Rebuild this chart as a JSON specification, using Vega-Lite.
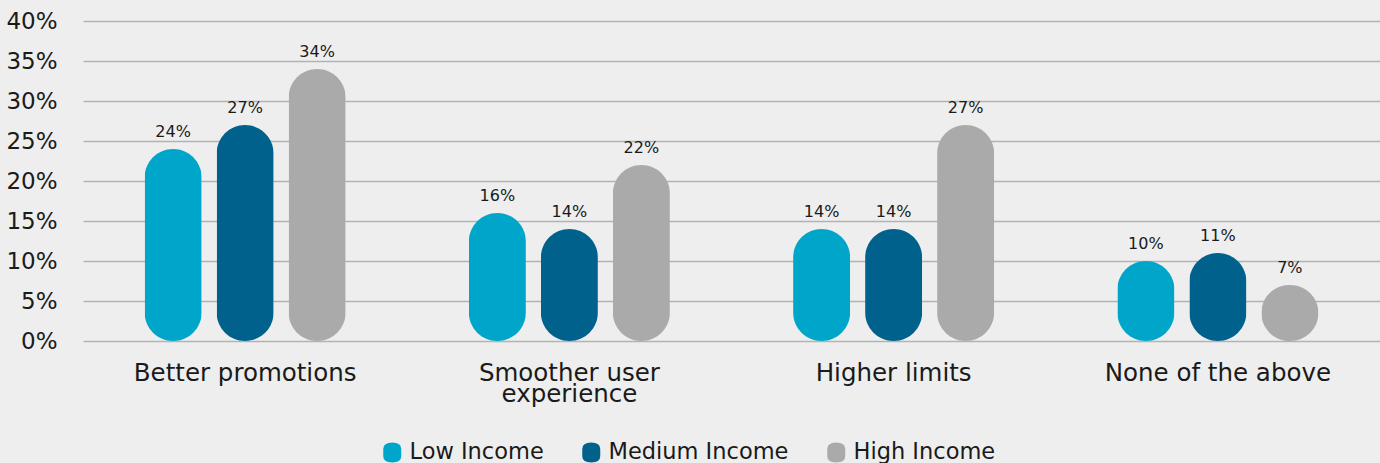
{
  "$schema": "https://vega.github.io/schema/vega-lite/v6.json",
  "width": 1297,
  "height": 320,
  "autosize": {"type": "none"},
  "padding": {"left": 83, "top": 21, "right": 0, "bottom": 122},
  "background": "#eeeeee",
  "config": {
    "view": {"stroke": null},
    "font": "DejaVu Sans",
    "text": {"font": "DejaVu Sans"}
  },
  "data": {
    "values": [
      {"category": "Better promotions", "income": "Low Income", "value": 0.24},
      {"category": "Better promotions", "income": "Medium Income", "value": 0.27},
      {"category": "Better promotions", "income": "High Income", "value": 0.34},
      {"category": "Smoother user experience", "income": "Low Income", "value": 0.16},
      {"category": "Smoother user experience", "income": "Medium Income", "value": 0.14},
      {"category": "Smoother user experience", "income": "High Income", "value": 0.22},
      {"category": "Higher limits", "income": "Low Income", "value": 0.14},
      {"category": "Higher limits", "income": "Medium Income", "value": 0.14},
      {"category": "Higher limits", "income": "High Income", "value": 0.27},
      {"category": "None of the above", "income": "Low Income", "value": 0.10},
      {"category": "None of the above", "income": "Medium Income", "value": 0.11},
      {"category": "None of the above", "income": "High Income", "value": 0.07}
    ]
  },
  "encoding": {
    "x": {
      "field": "category",
      "type": "nominal",
      "sort": null,
      "scale": {"paddingInner": 0.38, "paddingOuter": 0.19},
      "axis": {
        "title": null,
        "labelAngle": 0,
        "ticks": false,
        "domain": false,
        "labelFontSize": 24.5,
        "labelColor": "#1a1a1a",
        "labelPadding": 20,
        "labelBaseline": "top",
        "labelLineHeight": 21.5,
        "labelLimit": 400,
        "labelExpr": "datum.label == 'Smoother user experience' ? ['Smoother user', 'experience'] : datum.label"
      }
    },
    "xOffset": {
      "field": "income",
      "type": "nominal",
      "sort": ["Low Income", "Medium Income", "High Income"],
      "scale": {"paddingInner": 0.208, "paddingOuter": 0}
    },
    "y": {
      "field": "value",
      "type": "quantitative",
      "scale": {"domain": [0, 0.4]},
      "axis": {
        "title": null,
        "values": [0, 0.05, 0.1, 0.15, 0.2, 0.25, 0.3, 0.35, 0.4],
        "format": ".0%",
        "ticks": false,
        "domain": false,
        "labelPadding": 26,
        "labelFontSize": 23,
        "labelColor": "#1a1a1a",
        "gridColor": "#b3b3b3",
        "gridWidth": 1.5
      }
    }
  },
  "layer": [
    {
      "mark": {"type": "bar", "cornerRadius": 28.5},
      "encoding": {
        "color": {
          "field": "income",
          "type": "nominal",
          "sort": ["Low Income", "Medium Income", "High Income"],
          "scale": {
            "domain": ["Low Income", "Medium Income", "High Income"],
            "range": ["#00a6c9", "#00618c", "#aaaaaa"]
          },
          "legend": {
            "title": null,
            "orient": "none",
            "legendX": 298,
            "legendY": 420,
            "direction": "horizontal",
            "symbolType": "M-0.9,-0.35 Q-0.9,-1 0,-1 Q0.9,-1 0.9,-0.35 L0.9,0.35 Q0.9,1 0,1 Q-0.9,1 -0.9,0.35 Z",
            "symbolSize": 400,
            "symbolStrokeWidth": 0,
            "labelFontSize": 22.5,
            "labelColor": "#1a1a1a",
            "labelOffset": 6,
            "columnPadding": 36,
            "labelLimit": 300
          }
        }
      }
    },
    {
      "mark": {"type": "text", "baseline": "bottom", "dy": -9, "fontSize": 16, "color": "#1a1a1a"},
      "encoding": {
        "text": {"field": "value", "type": "quantitative", "format": ".0%"}
      }
    }
  ]
}
